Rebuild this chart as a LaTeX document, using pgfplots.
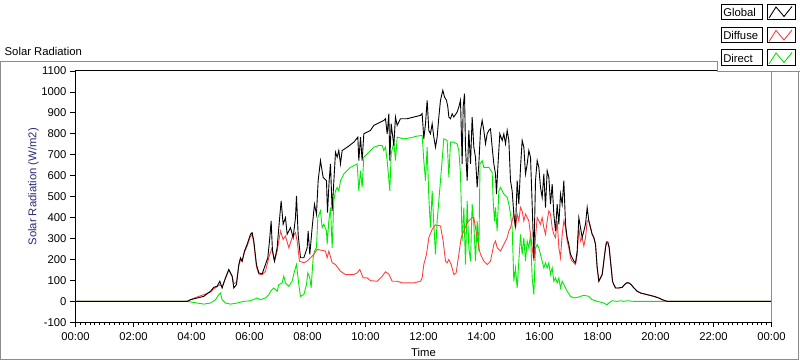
\documentclass[border=0pt]{standalone}
\usepackage{fontspec}
\setmainfont{Liberation Sans}
\usepackage{pgfplots}
\pgfplotsset{compat=1.18}
\definecolor{dred}{RGB}{255,64,64}
\definecolor{dgreen}{RGB}{0,235,0}
\definecolor{framegray}{RGB}{140,140,140}
\definecolor{labblue}{RGB}{40,40,120}

\pgfplotstableread{
t v
0 0
3.851 0
3.966 8
4.195 16
4.425 24
4.655 48
4.770 67
4.885 72
4.977 96
5.057 64
5.172 112
5.287 152
5.402 120
5.460 64
5.552 80
5.632 176
5.690 208
5.747 192
5.828 240
5.920 272
6.034 320
6.092 328
6.149 288
6.241 176
6.322 136
6.437 131
6.552 176
6.632 208
6.701 304
6.747 384
6.793 240
6.862 192
6.954 256
7.011 352
7.092 480
7.161 368
7.241 400
7.299 320
7.414 352
7.506 304
7.586 400
7.621 504
7.678 320
7.759 208
7.874 208
7.989 256
8.023 336
8.080 224
8.161 352
8.241 464
8.310 416
8.368 576
8.448 672
8.540 592
8.655 576
8.690 424
8.747 576
8.793 656
8.851 432
8.966 712
9.023 688
9.080 720
9.138 656
9.195 720
9.368 736
9.598 760
9.736 784
9.770 672
9.828 784
9.885 672
9.943 800
10.172 816
10.287 840
10.517 856
10.632 864
10.690 872
10.747 800
10.805 896
10.839 672
10.885 848
10.977 744
11.034 880
11.092 840
11.207 872
11.437 872
11.667 880
11.897 888
11.954 896
12.011 776
12.069 848
12.126 960
12.184 816
12.241 800
12.299 848
12.356 784
12.414 736
12.471 784
12.529 880
12.586 960
12.667 1008
12.724 976
12.793 960
12.839 928
12.874 880
12.931 872
12.989 896
13.046 880
13.161 904
13.218 928
13.276 960
13.333 656
13.368 928
13.414 992
13.448 736
13.506 576
13.563 816
13.621 656
13.678 880
13.736 736
13.793 688
13.851 544
13.908 656
13.966 816
14.023 864
14.080 816
14.138 752
14.195 800
14.253 816
14.310 824
14.368 736
14.425 656
14.483 608
14.517 512
14.563 640
14.632 800
14.713 768
14.770 800
14.828 752
14.885 816
14.943 768
15.000 576
15.057 528
15.115 416
15.172 352
15.230 576
15.287 464
15.345 640
15.402 768
15.460 736
15.517 608
15.575 656
15.632 720
15.690 688
15.747 464
15.805 208
15.862 576
15.920 672
15.977 640
16.034 544
16.092 496
16.149 608
16.207 448
16.264 624
16.322 592
16.379 464
16.437 560
16.494 416
16.552 336
16.609 464
16.667 368
16.724 512
16.782 464
16.839 576
16.897 368
16.954 304
17.011 272
17.069 224
17.126 208
17.184 192
17.241 184
17.299 240
17.356 400
17.414 352
17.471 304
17.529 336
17.586 368
17.644 448
17.701 384
17.759 352
17.816 320
17.874 304
17.931 272
17.989 160
18.046 96
18.103 112
18.161 128
18.218 192
18.276 256
18.310 280
18.356 280
18.402 256
18.448 192
18.483 144
18.517 96
18.563 80
18.621 64
18.736 64
18.851 67
18.931 80
19.000 88
19.080 88
19.161 80
19.253 64
19.368 48
19.483 40
19.713 32
19.943 24
20.115 16
20.230 8
20.345 3
20.402 0
24 0
}\globaltab

\pgfplotstableread{
t v
0 0
3.851 0
3.966 8
4.195 21
4.425 32
4.655 45
4.770 60
4.885 70
4.977 80
5.057 70
5.172 110
5.287 150
5.402 120
5.460 85
5.552 90
5.632 170
5.690 200
5.747 190
5.828 235
5.920 265
6.034 310
6.092 320
6.149 280
6.241 165
6.322 130
6.437 128
6.552 144
6.690 221
6.782 256
6.862 192
6.954 240
7.069 336
7.161 296
7.241 312
7.356 256
7.471 304
7.586 328
7.644 288
7.724 192
7.874 184
7.989 192
8.103 208
8.218 224
8.333 248
8.448 245
8.621 240
8.678 208
8.736 240
8.851 184
8.966 176
9.138 144
9.310 128
9.598 128
9.713 136
9.805 152
9.920 112
10.057 112
10.172 99
10.402 96
10.575 120
10.690 141
10.805 130
10.920 96
11.092 96
11.264 88
11.667 88
11.897 96
11.954 112
12.011 176
12.103 224
12.184 304
12.299 344
12.414 365
12.586 360
12.678 288
12.759 192
12.816 184
12.874 200
12.954 176
13.046 128
13.126 136
13.218 224
13.299 304
13.391 336
13.506 376
13.621 392
13.678 400
13.736 400
13.793 352
13.851 304
13.908 256
13.966 224
14.080 192
14.195 176
14.310 192
14.425 272
14.483 288
14.540 256
14.655 240
14.770 272
14.885 304
14.943 336
15.000 352
15.057 384
15.115 416
15.172 352
15.230 416
15.287 384
15.345 448
15.402 432
15.460 384
15.517 416
15.575 400
15.632 384
15.690 320
15.747 256
15.805 192
15.862 304
15.920 400
15.977 384
16.034 368
16.092 400
16.149 352
16.207 320
16.264 384
16.322 432
16.379 416
16.437 352
16.494 320
16.552 304
16.609 384
16.667 256
16.724 208
16.782 320
16.839 384
16.897 352
16.954 288
17.011 256
17.069 208
17.126 192
17.184 184
17.241 176
17.299 224
17.356 352
17.414 288
17.471 304
17.529 264
17.586 304
17.644 384
17.701 384
17.759 352
17.816 320
17.874 304
17.931 272
17.989 160
18.046 96
18.103 112
18.161 128
18.218 192
18.276 260
18.310 286
18.356 286
18.402 260
18.448 192
18.483 144
18.517 96
18.563 80
18.621 64
18.736 64
18.851 67
18.931 80
19.000 88
19.080 88
19.161 80
19.253 64
19.368 48
19.483 40
19.713 32
19.943 24
20.115 16
20.230 8
20.345 3
20.402 0
24 0
}\diffusetab

\pgfplotstableread{
t v
0 0
3.851 0
4.195 -8
4.425 -13
4.655 -8
4.828 8
4.943 32
5.000 40
5.057 8
5.172 -8
5.345 -13
5.575 -8
5.805 0
6.034 3
6.264 16
6.379 8
6.552 16
6.667 32
6.724 48
6.839 64
6.954 48
7.011 80
7.126 88
7.184 120
7.241 88
7.356 72
7.471 96
7.552 144
7.621 176
7.701 80
7.759 24
7.874 32
7.966 80
8.011 136
8.080 112
8.126 64
8.195 208
8.241 240
8.310 256
8.356 400
8.448 432
8.506 352
8.563 368
8.655 336
8.678 272
8.736 384
8.793 448
8.851 256
8.908 480
8.966 528
9.023 544
9.080 528
9.138 576
9.253 608
9.483 640
9.713 656
9.770 528
9.828 624
9.885 544
9.943 688
10.115 712
10.287 736
10.460 744
10.575 744
10.632 720
10.690 736
10.747 672
10.839 528
10.885 704
10.977 760
11.034 672
11.092 784
11.322 776
11.552 781
11.782 789
11.954 792
12.011 672
12.069 576
12.126 736
12.184 496
12.241 352
12.299 528
12.356 368
12.414 224
12.471 384
12.586 576
12.701 776
12.816 768
12.874 592
12.931 760
13.046 760
13.161 752
13.218 720
13.276 608
13.333 288
13.391 448
13.448 176
13.506 480
13.563 256
13.621 192
13.678 464
13.736 368
13.793 192
13.851 384
13.908 240
13.950 656
14.023 672
14.080 640
14.253 640
14.368 616
14.402 480
14.448 384
14.483 448
14.540 336
14.598 528
14.655 544
14.770 512
14.885 496
14.943 464
15.000 416
15.057 352
15.115 96
15.172 160
15.230 64
15.287 192
15.345 320
15.402 224
15.460 304
15.517 192
15.575 288
15.632 256
15.690 320
15.747 112
15.805 32
15.862 256
15.920 272
15.977 256
16.034 224
16.092 192
16.149 160
16.207 184
16.264 160
16.322 184
16.379 128
16.437 160
16.494 96
16.552 112
16.609 88
16.667 112
16.724 64
16.782 96
16.839 80
16.954 48
17.069 24
17.184 16
17.299 19
17.529 29
17.701 24
17.816 8
17.989 0
18.218 -8
18.276 -13
18.333 -16
18.390 -8
18.506 3
18.678 0
18.793 3
18.908 0
19.023 3
19.253 0
20.345 0
24 0
}\directtab

\begin{document}
\fontsize{11.3bp}{13bp}\selectfont
\begin{tikzpicture}
\begin{scope}[x=1bp,y=-1bp]
\path[use as bounding box] (0,0) rectangle (800,361);
\draw[framegray, line width=1bp] (0.5,61.5) rectangle (798.5,359.5);
\node[anchor=west, inner sep=0] at (4.5,51) {Solar Radiation};
\end{scope}
\begin{axis}[
 at={(75.5bp,-322.5bp)}, anchor=south west,
 width=696.5bp, height=251.5bp, scale only axis,
 xmin=0, xmax=24, ymin=-100, ymax=1100,
 xtick={0,2,...,24},
 xticklabels={00:00,02:00,04:00,06:00,08:00,10:00,12:00,14:00,16:00,18:00,20:00,22:00,00:00},
 minor x tick num=11,
 ytick={-100,0,...,1100},
 xtick pos=left, ytick pos=left,
 tick align=outside, major tick length=5bp, minor tick length=3bp,
 every tick/.style={black, line width=0.8bp},
 axis line style={black, line width=1bp},
 font=\fontsize{11.3bp}{13bp}\selectfont,
 /pgf/number format/assume math mode=true,
 /pgf/number format/1000 sep={},
 xticklabel style={yshift=-1bp},
 xlabel={Time}, ylabel={Solar Radiation (W/m2)},
 xlabel style={at={(axis description cs:0.5,-0.121)}, anchor=center},
 ylabel style={at={(axis description cs:-0.0603,0.539)}, anchor=center, text=labblue},
 clip=true,
]
\addplot[dgreen, line width=0.9bp] table[x=t,y=v] {\directtab};
\addplot[dred, line width=0.9bp] table[x=t,y=v] {\diffusetab};
\addplot[black, line width=0.9bp] table[x=t,y=v] {\globaltab};
\end{axis}
\begin{scope}[x=1bp,y=-1bp]
\draw[framegray, line width=1.2bp] (772,71) -- (772,322);
\fill[white] (717,0) rectangle (800,72);
\draw[framegray, line width=1bp] (717.5,61) -- (717.5,72) -- (800,72);
\foreach \yy/\lab/\col in {4/Global/black, 27.5/Diffuse/dred, 50/Direct/dgreen}{
  \draw[black, line width=1bp] (721.5,\yy) rectangle (762.5,\yy+15.5);
  \node[anchor=west, inner sep=0] at (723.5,\yy+8) {\lab};
  \draw[black, line width=1bp] (767.5,\yy) rectangle (795.5,\yy+15.5);
  \draw[\col, line width=0.9bp] (769.5,\yy+14) -- (776.5,\yy+3) -- (784.5,\yy+12.5) -- (792.5,\yy+2.5);
}
\end{scope}
\end{tikzpicture}
\end{document}
